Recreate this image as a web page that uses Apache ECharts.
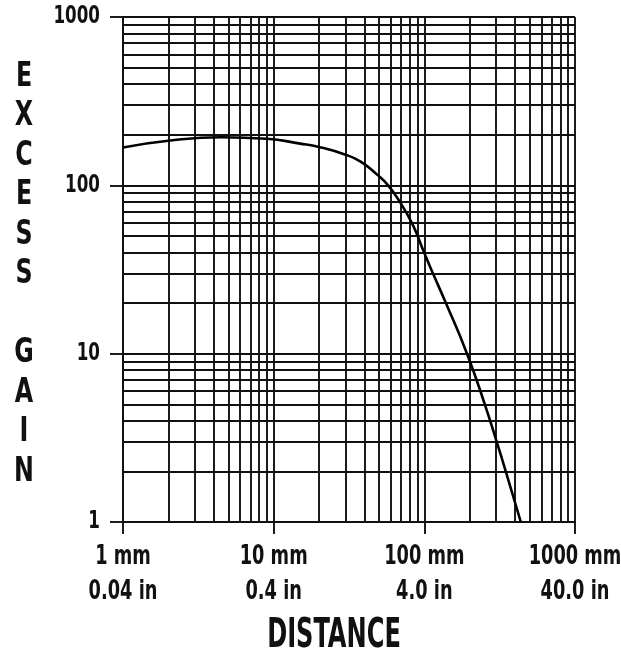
<!DOCTYPE html>
<html>
<head>
<meta charset="utf-8">
<script src="https://cdn.jsdelivr.net/npm/echarts@6/dist/echarts.min.js"></script>
<style>
html,body{margin:0;padding:0;background:#fff;}
#c{width:621px;height:657px;}
</style>
</head>
<body>
<div id="c"></div>
<script>
// ---- data ----
const distanceMm = [1, 2, 4.5, 9, 15, 20, 30, 38, 49, 57.5, 68.6, 84, 99.5, 114, 139, 192, 252, 302, 347, 437];
const excessGain = [168, 184, 193, 189, 177, 169, 152, 138, 115, 100, 80, 58, 40, 30, 20, 10, 5, 3, 2, 1];

const xTickValues = [1, 10, 100, 1000];
const xTickMm = ['1 mm', '10 mm', '100 mm', '1000 mm'];
const xTickIn = ['0.04 in', '0.4 in', '4.0 in', '40.0 in'];
const yTickValues = [1, 10, 100, 1000];
const yTickLabels = ['1', '10', '100', '1000'];

const minorX = [2,3,4,5,6,7,8,9,20,30,40,50,60,70,80,90,200,300,400,500,600,700,800,900];
const minorY = [2,3,4,5,6,7,8,9,20,30,40,50,60,70,80,90,200,300,400,500,600,700,800,900];

const yTitle = 'E\nX\nC\nE\nS\nS\n\nG\nA\nI\nN';
const xTitle = 'DISTANCE';

// ---- chart ----
const FONT = '"DejaVu Sans Condensed", "DejaVu Sans", sans-serif';
const INK = '#111';
const LW = 1.9;
const chart = echarts.init(document.getElementById('c'), null, {renderer: 'canvas'});

const points = distanceMm.map((d, i) => [d, excessGain[i]]);

const option = {
  animation: false,
  backgroundColor: '#fff',
  grid: {left: 123, right: 46, top: 17, bottom: 135, containLabel: false, outerBoundsMode: 'none'},
  xAxis: {
    type: 'log', logBase: 10, min: 1, max: 1000,
    axisLine: {show: true, onZero: false, lineStyle: {color: INK, width: LW}},
    axisTick: {show: true, length: 12, lineStyle: {color: INK, width: LW}},
    splitLine: {show: true, lineStyle: {color: INK, width: LW}},
    axisLabel: {show: false}
  },
  yAxis: {
    type: 'log', logBase: 10, min: 1, max: 1000,
    axisLine: {show: true, lineStyle: {color: INK, width: LW}},
    axisTick: {show: true, length: 13, lineStyle: {color: INK, width: LW}},
    splitLine: {show: true, lineStyle: {color: INK, width: LW}},
    axisLabel: {show: false}
  },
  series: [
    {
      type: 'line', data: points, symbol: 'none', silent: true,
      lineStyle: {opacity: 0, width: 0}, z: 1,
      markLine: {
        silent: true, symbol: ['none', 'none'], animation: false,
        label: {show: false},
        lineStyle: {color: INK, width: LW, type: 'solid'},
        emphasis: {disabled: true},
        data: minorX.map(v => ({xAxis: v})).concat(minorY.map(v => ({yAxis: v})))
      }
    },
    {
      type: 'line', data: points, symbol: 'none', smooth: 0.5, silent: true, z: 5,
      clip: true,
      lineStyle: {color: '#000', width: 2.6}
    }
  ]
};
chart.setOption(option);

// Tick labels and axis titles, placed through the axes' own scales
const axisY = chart.convertToPixel({yAxisIndex: 0}, 1);
const axisX = chart.convertToPixel({xAxisIndex: 0}, 1);
const xMid = (chart.convertToPixel({xAxisIndex: 0}, 1) + chart.convertToPixel({xAxisIndex: 0}, 1000)) / 2;
const yMid = (chart.convertToPixel({yAxisIndex: 0}, 1) + chart.convertToPixel({yAxisIndex: 0}, 1000)) / 2;

const graphics = [];
xTickValues.forEach((v, i) => {
  graphics.push({
    type: 'text', silent: true,
    x: chart.convertToPixel({xAxisIndex: 0}, v), y: axisY + 52.5, scaleX: 0.76,
    style: {text: xTickMm[i] + '\n' + xTickIn[i], fill: '#111', font: 'bold 26px ' + FONT,
            align: 'center', verticalAlign: 'middle', lineHeight: 35}
  });
});
yTickValues.forEach((v, i) => {
  graphics.push({
    type: 'text', silent: true,
    x: axisX - 23, y: chart.convertToPixel({yAxisIndex: 0}, v), scaleX: 0.76,
    style: {text: yTickLabels[i], fill: '#111', font: 'bold 24.5px ' + FONT,
            align: 'right', verticalAlign: 'middle'}
  });
});
graphics.push({
  type: 'text', silent: true, x: 24, y: yMid + 5, scaleX: 0.8,
  style: {text: yTitle, fill: '#111', font: 'bold 33px ' + FONT, align: 'center', verticalAlign: 'middle', lineHeight: 39.5}
});
graphics.push({
  type: 'text', silent: true, x: xMid - 15, y: axisY + 114.5, scaleX: 0.67,
  style: {text: xTitle, fill: '#111', font: 'bold 40px ' + FONT, align: 'center', verticalAlign: 'middle'}
});
chart.setOption({graphic: graphics});
</script>
</body>
</html>
